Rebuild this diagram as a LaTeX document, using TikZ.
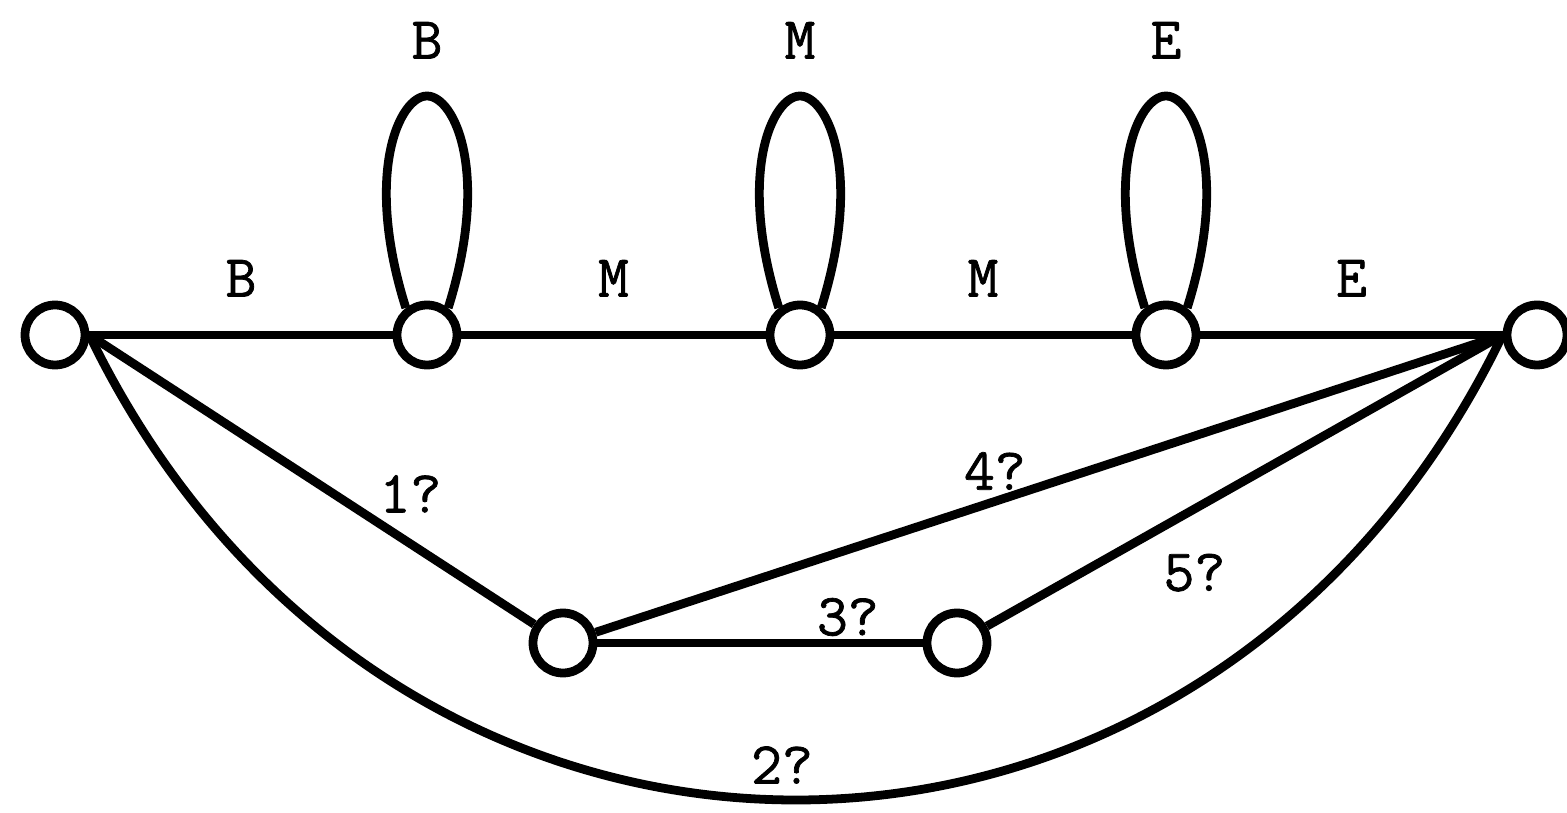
\documentclass[tikz,border=0pt]{standalone}
\usepackage{fontspec}
\newfontfamily\lblfont[FakeBold=1.2]{Latin Modern Mono}
\usetikzlibrary{positioning,calc}

\begin{document}
\begin{tikzpicture}[
    state/.style={circle, draw, line width=5pt, minimum size=1.2cm, inner sep=0pt},
    link/.style={line width=5pt},
    lbl/.style={font=\lblfont\fontsize{34}{40}\selectfont, inner sep=0pt}
]
    \useasboundingbox (0,0) rectangle (31.34,-16.26);

    \node[state] (s0) at (1.1,-6.7) {};
    \node[state] (sB) at (8.54,-6.7) {};
    \node[state] (sM) at (16.0,-6.7) {};
    \node[state] (sE) at (23.32,-6.7) {};
    \node[state] (sF) at (30.74,-6.7) {};
    \node[state] (x1) at (11.26,-12.86) {};
    \node[state] (x2) at (19.14,-12.86) {};

    \draw[link] (s0.east) -- node[lbl, above=0.68cm] {B} (sB);
    \draw[link] (sB) -- node[lbl, above=0.68cm] {M} (sM);
    \draw[link] (sM) -- node[lbl, above=0.68cm] {M} (sE);
    \draw[link] (sE) -- node[lbl, above=0.68cm] {E} (sF.west);

    % self loops
    \foreach \n/\t in {sB/B, sM/M, sE/E}
        \draw[link] (\n.128) .. controls +(-0.85,2.7) and +(-0.55,0) .. ($(\n)+(0,4.78)$) node[lbl, above=0.66cm] {\t}
            .. controls +(0.55,0) and +(0.85,2.7) .. (\n.52);

    \draw[link] (s0.east) -- node[lbl, pos=0.67, xshift=0.46cm, yshift=0.7cm] {1?} (x1);
    \draw[link] (x1) -- node[lbl, pos=0.45, xshift=-0.18cm, yshift=0.55cm] {4?} (sF.west);
    \draw[link] (x1) -- node[lbl, pos=0.77, yshift=0.52cm] {3?} (x2);
    \draw[link] (x2) -- node[lbl, pos=0.35, xshift=0.54cm, yshift=-0.97cm] {5?} (sF.west);
    \draw[link] (s0.east) .. controls +(6,-12.4) and +(-6,-12.4) .. node[lbl, above=0.24cm, xshift=-0.28cm] {2?} (sF.west);
\end{tikzpicture}
\end{document}
